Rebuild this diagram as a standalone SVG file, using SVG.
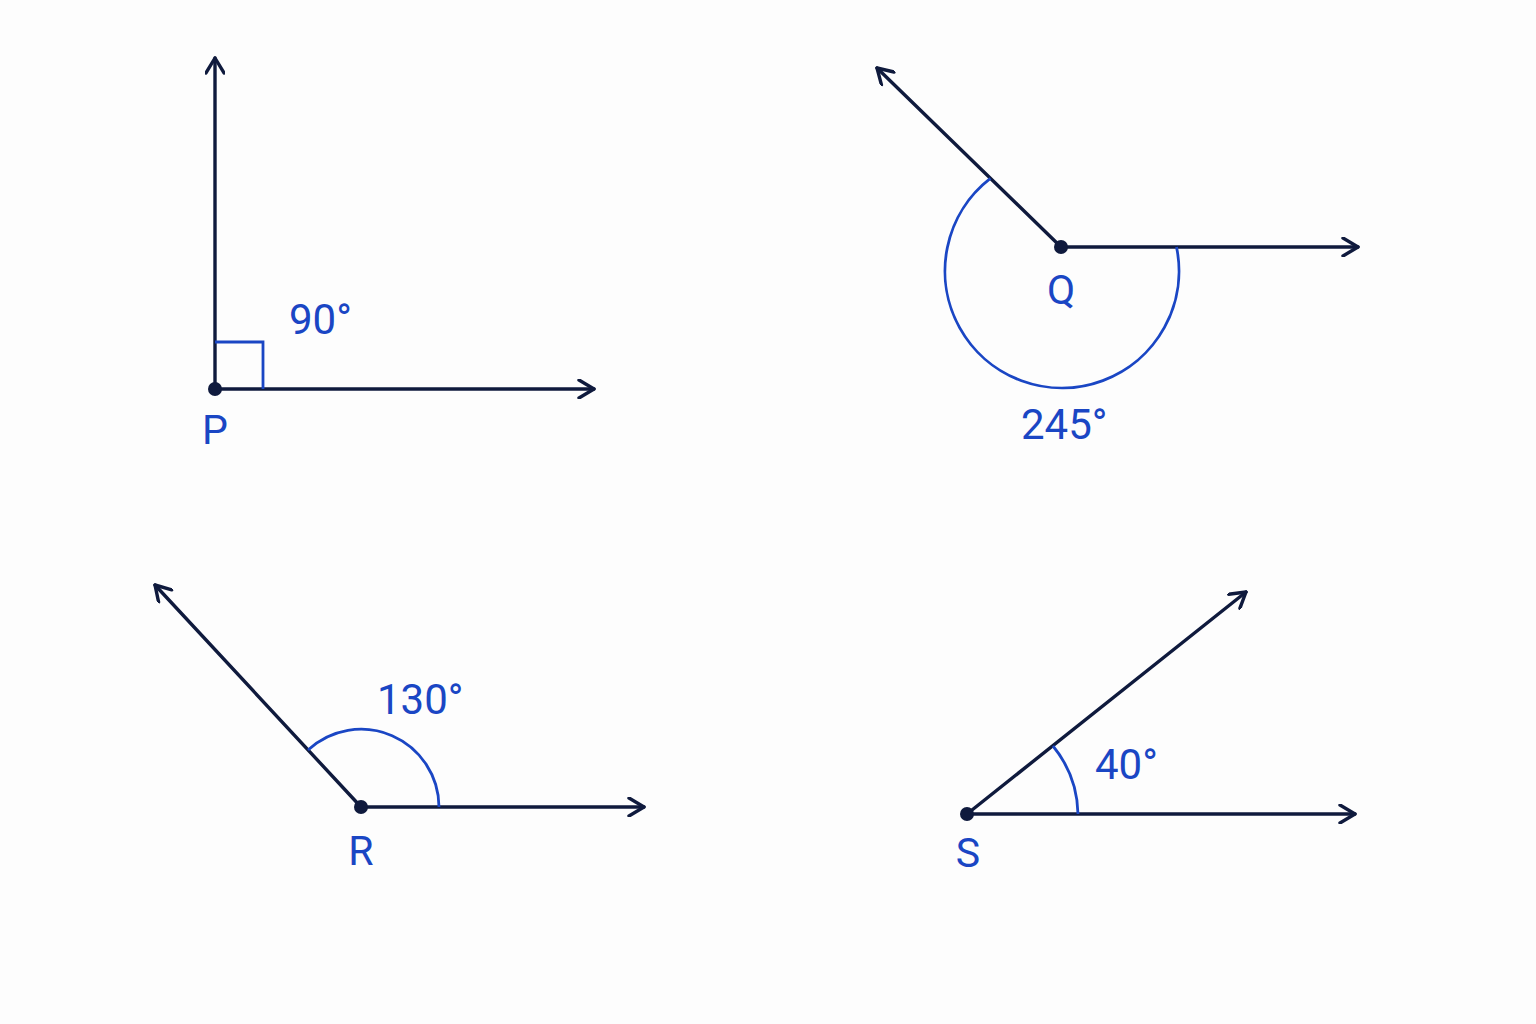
<svg xmlns="http://www.w3.org/2000/svg" width="1536" height="1024" viewBox="0 0 1536 1024">
<defs>
<marker id="arr" viewBox="0 0 20 20" refX="18" refY="10" markerWidth="20" markerHeight="20" markerUnits="userSpaceOnUse" orient="auto">
<path d="M 3 1 L 18 10 L 3 19" fill="none" stroke="#0f1a3d" stroke-width="3.4" stroke-linecap="round" stroke-linejoin="round"/>
</marker>
<style>
.ray{stroke:#0f1a3d;stroke-width:3.4;fill:none;stroke-linecap:round;marker-end:url(#arr)}
.arc{stroke:#1a46c4;stroke-width:2.8;fill:none}
.dot{fill:#0f1a3d}
.lbl{font-family:Roboto,"Liberation Sans",sans-serif;font-size:41px;fill:#1a46c4;text-anchor:middle}
.ang{font-family:Roboto,"Liberation Sans",sans-serif;font-size:42px;fill:#1a46c4}
</style>
</defs>
<rect width="1536" height="1024" fill="#fdfdfd"/>
<g id="connectors">
<line class="ray" x1="215" y1="389" x2="215" y2="58"/>
<line class="ray" x1="215" y1="389" x2="594" y2="389"/>
<line class="ray" x1="1061" y1="247" x2="877" y2="68"/>
<line class="ray" x1="1061" y1="247" x2="1358" y2="247"/>
<line class="ray" x1="361" y1="807" x2="155" y2="585"/>
<line class="ray" x1="361" y1="807" x2="644" y2="807"/>
<line class="ray" x1="967" y1="814" x2="1246" y2="592"/>
<line class="ray" x1="967" y1="814" x2="1355" y2="814"/>
</g>
<g id="angle-P">
<path class="arc" d="M 215 342 L 263 342 L 263 389"/>
<circle class="dot" cx="215" cy="389" r="7"/>
<text class="ang" x="289" y="334">90°</text>
<text class="lbl" x="215" y="444">P</text>
</g>
<g id="angle-Q">
<path class="arc" d="M 990.4 178.4 A 117 117 0 1 0 1176.5 247"/>
<circle class="dot" cx="1061" cy="247" r="7"/>
<text class="lbl" x="1061" y="304">Q</text>
<text class="ang" x="1021" y="439">245°</text>
</g>
<g id="angle-R">
<path class="arc" d="M 308 750 A 78 78 0 0 1 439 807"/>
<circle class="dot" cx="361" cy="807" r="7"/>
<text class="ang" x="377" y="714">130°</text>
<text class="lbl" x="361" y="865">R</text>
</g>
<g id="angle-S">
<path class="arc" d="M 1053 746 A 111 111 0 0 1 1078 814"/>
<circle class="dot" cx="967" cy="814" r="7"/>
<text class="ang" x="1095" y="779">40°</text>
<text class="lbl" x="968" y="867">S</text>
</g>
</svg>
